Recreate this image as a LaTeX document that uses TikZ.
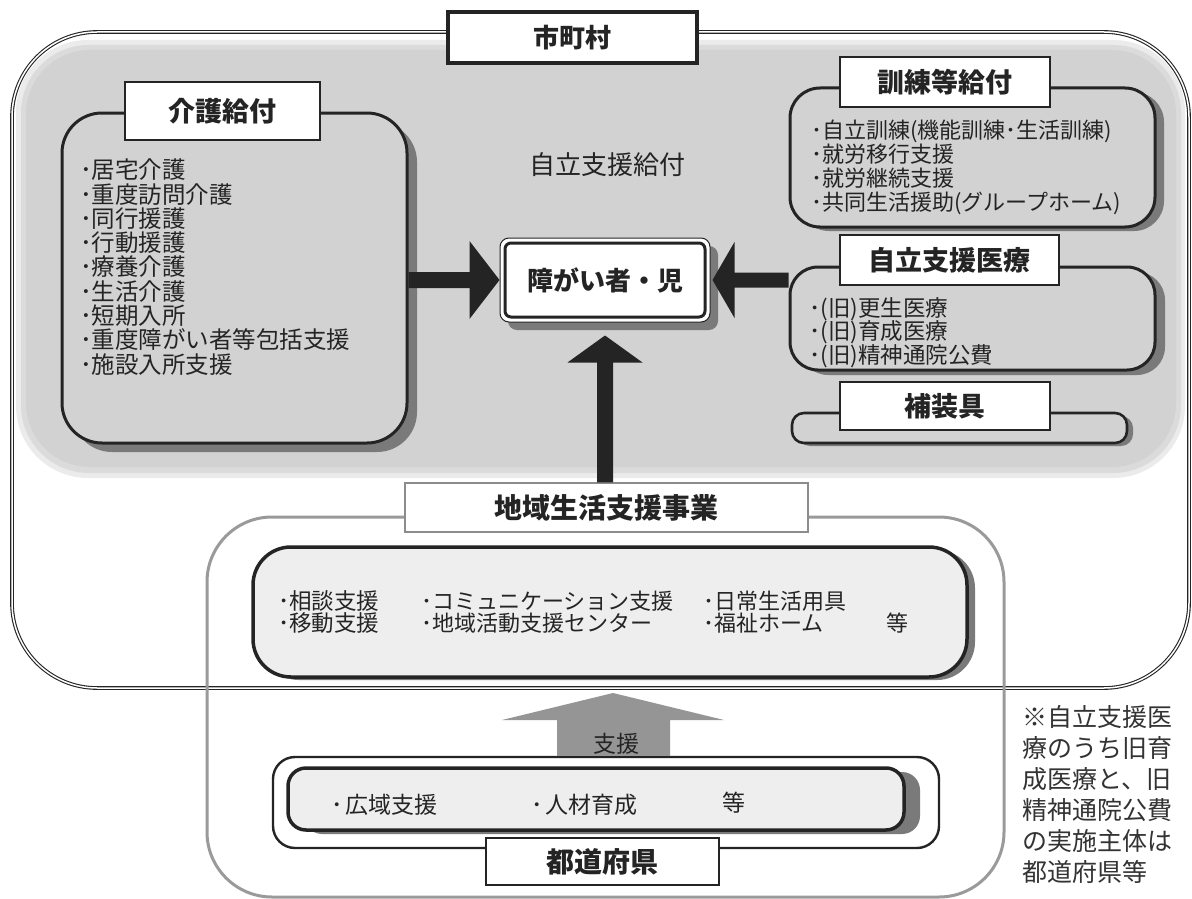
\documentclass[tikz,border=0pt]{standalone}
\usepackage{fontspec}
\setmainfont{Noto Sans CJK JP}
\usetikzlibrary{calc}
\definecolor{ink}{HTML}{242424}
\definecolor{bggray}{HTML}{D2D2D2}
\definecolor{lightfill}{HTML}{EEEEEE}
\definecolor{shade}{HTML}{7A7A7A}
\definecolor{framegray}{HTML}{9A9A9A}
\definecolor{arrowgray}{HTML}{959595}
\begin{document}
\begin{tikzpicture}[x=1pt,y=-1pt,
  lbl/.style={draw=ink,line width=1.6pt,fill=white,inner sep=0pt,text=ink,font=\bfseries\fontsize{27}{27}\selectfont},
  bx/.style={draw=ink,line width=3pt,fill=#1,inner sep=0pt},
  bx/.default=bggray,
  shadowfill/.style={fill=shade,rounded corners=#1},
  items/.style={align=left,inner sep=0pt,text=ink,font=\fontsize{22}{24}\selectfont},
  plain/.style={inner sep=0pt,text=ink}]

\useasboundingbox (0,0) rectangle (1192,899);
\fill[white] (0,0) rectangle (1192,899);

% grey field of the municipality
\fill[black!8,rounded corners=72pt] (16,40) rectangle (1185,478);
\fill[black!14,rounded corners=68pt] (21,45) rectangle (1181,473);
\fill[bggray,rounded corners=64pt] (26,50) rectangle (1176,467);

% outer frame (municipality)
\draw[ink,line width=1.1pt,double=white,double distance=1.5pt,rounded corners=85pt] (12,32) rectangle (1189,688);

% frame of community life support
\draw[framegray,line width=3pt,rounded corners=65pt] (207,517) rectangle (1004,897);

% municipality label
\node[lbl,line width=3.2pt,minimum width=249pt,minimum height=51pt,font=\bfseries\fontsize{26}{26}\selectfont] (shichoson) at (572.5,37.5) {市町村};

% care benefits
\fill[shadowfill=40pt] (72,122) rectangle (417,452);
\node[bx,rounded corners=40pt,minimum width=345pt,minimum height=330pt] (kaigo) at (234.5,278) {};
\node[lbl,minimum width=195pt,minimum height=58pt] (kaigolbl) at (222.5,111) {介護給付};
\node[items,anchor=west,font=\fontsize{23.5}{24.3}\selectfont] (kaigoitems) at (80,267) {･居宅介護\\･重度訪問介護\\･同行援護\\･行動援護\\･療養介護\\･生活介護\\･短期入所\\･重度障がい者等包括支援\\･施設入所支援};

\node[plain,font=\fontsize{26}{26}\selectfont] (kyufu) at (607,165) {自立支援給付};

% person
\fill[shadowfill=9pt] (508,246) rectangle (718,330);
\node[draw=ink,line width=1pt,fill=white,rounded corners=9pt,minimum width=210pt,minimum height=84pt,inner sep=0pt] (person) at (605,280) {};
\draw[ink,line width=3pt,rounded corners=6pt] ($(person.north west)+(5.5,5.5)$) rectangle ($(person.south east)+(-5.5,-5.5)$);
\node[plain,font=\bfseries\fontsize{26}{26}\selectfont] (persontxt) at (person.center) {障がい者・児};

% training benefits
\fill[shadowfill=30pt] (799,92) rectangle (1164,231);
\node[bx,rounded corners=30pt,minimum width=365pt,minimum height=139pt] (kunren) at (972.5,157.5) {};
\node[lbl,minimum width=210pt,minimum height=50pt] (kunrenlbl) at (945,82) {訓練等給付};
\node[items,anchor=west] (kunrenitems) at (811,167) {･自立訓練(機能訓練･生活訓練)\\･就労移行支援\\･就労継続支援\\･共同生活援助(グループホーム)};

% medical care
\fill[shadowfill=28pt] (800,272) rectangle (1165,375);
\node[bx,rounded corners=28pt,minimum width=365pt,minimum height=103pt] (iryo) at (972.5,318.5) {};
\node[lbl,minimum width=219pt,minimum height=50pt] (iryolbl) at (949.5,260) {自立支援医療};
\node[items,anchor=west,font=\fontsize{22.5}{23.5}\selectfont] (iryoitems) at (809,332.5) {･(旧)更生医療\\･(旧)育成医療\\･(旧)精神通院公費};

% assistive devices
\fill[shadowfill=12pt] (798,416) rectangle (1133,446);
\node[bx,line width=2.6pt,rounded corners=12pt,minimum width=335pt,minimum height=30pt] (hosougu) at (959.5,428) {};
\node[lbl,minimum width=210pt,minimum height=48pt] (hosougulbl) at (945,406) {補装具};

% community life support label and box
\node[lbl,draw=black!45,line width=1.2pt,minimum width=403pt,minimum height=49pt,font=\bfseries\fontsize{28}{28}\selectfont] (chiikilbl) at (606.5,507.5) {地域生活支援事業};
\fill[shadowfill=38pt] (261,550) rectangle (975,680);
\node[bx=lightfill,line width=3.5pt,rounded corners=38pt,minimum width=714pt,minimum height=130pt] (chiiki) at (610,612) {};
\node[items,anchor=west,font=\fontsize{22.5}{22}\selectfont] (c1) at (278,612) {･相談支援\\･移動支援};
\node[items,anchor=west,font=\fontsize{22}{22}\selectfont] (c2) at (421,612) {･コミュニケーション支援\\･地域活動支援センター};
\node[items,anchor=west,font=\fontsize{22}{22}\selectfont] (c3) at (703,612) {･日常生活用具\\･福祉ホーム};
\node[plain,font=\fontsize{22}{22}\selectfont] (c4) at (897,623) {等};

% prefecture
\node[draw=ink,line width=2.4pt,fill=white,rounded corners=22pt,minimum width=666pt,minimum height=91pt,inner sep=0pt] (tofuout) at (606,802.5) {};
\fill[shadowfill=18pt] (304,772) rectangle (920,834);
\node[bx=lightfill,line width=3.5pt,rounded corners=18pt,minimum width=616pt,minimum height=62pt] (tofuin) at (596,799) {};
\node[plain,anchor=west,font=\fontsize{23}{23}\selectfont] (t1) at (331,805) {･\hspace{3pt}広域支援};
\node[plain,anchor=west,font=\fontsize{23}{23}\selectfont] (t2) at (531,805) {･\hspace{3pt}人材育成};
\node[plain,font=\fontsize{23}{23}\selectfont] (t3) at (734,803) {等};
\node[lbl,line width=2.4pt,minimum width=233pt,minimum height=47pt,font=\bfseries\fontsize{28}{28}\selectfont] (tofulbl) at (602.5,861.5) {都道府県};

% block arrows
\fill[ink] (person.west) -- ++(-30,-39) -- ++(0,31) -- ($(kaigo.east |- person.west)+(0,-8)$) -- ++(0,16) -- ($(person.west)+(-30,8)$) -- ++(0,31) -- cycle;
\coordinate (rtip) at ($(person.east)+(2,0)$);
\fill[ink] (rtip) -- ++(22,-38) -- ++(0,30.5) -- ($(iryo.west |- rtip)+(0,-7.5)$) -- ++(0,15) -- ($(rtip)+(22,7.5)$) -- ++(0,30.5) -- cycle;
\coordinate (utip) at ($(person.south)+(0,13)$);
\fill[ink] (utip) -- ++(37.5,27) -- ++(-29.5,0) -- ($(utip |- chiikilbl.north)+(8,0)$) -- ++(-16,0) -- ($(utip)+(-8,27)$) -- ++(-29.5,0) -- cycle;
\coordinate (gtip) at (613,693);
\fill[arrowgray] (gtip) -- ++(111,27) -- ++(-54,0) -- ($(gtip |- tofuout.north)+(57,0)$) -- ++(-113,0) -- ($(gtip)+(-56,27)$) -- ++(-55,0) -- cycle;
\node[plain,font=\fontsize{23}{23}\selectfont] (shien) at (616,744) {支援};

% note
\node[plain,anchor=west,align=left,text=black!80,font=\fontsize{25}{31}\selectfont] (note) at (1022,795) {※自立支援医\\療のうち旧育\\成医療と、旧\\精神通院公費\\の実施主体は\\都道府県等};
\end{tikzpicture}
\end{document}
